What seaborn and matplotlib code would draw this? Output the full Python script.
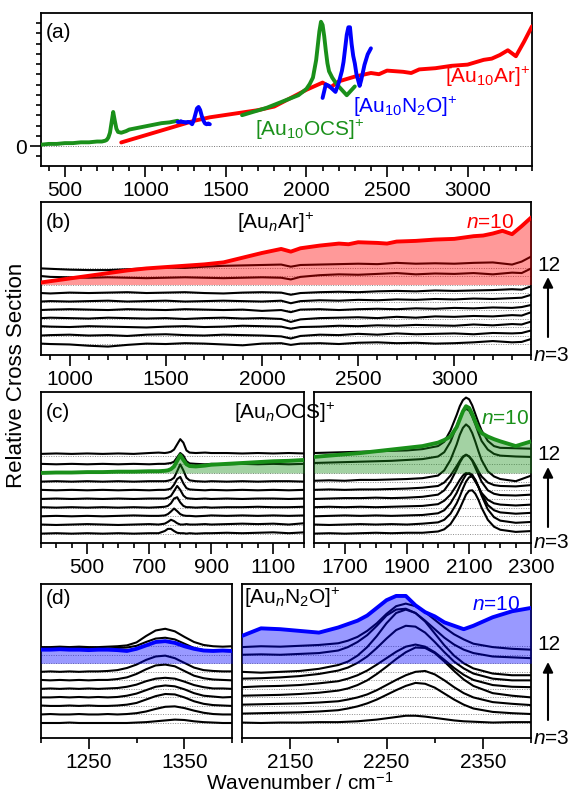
import numpy as np
import matplotlib
matplotlib.use("Agg")
import matplotlib.pyplot as plt
from matplotlib.ticker import MultipleLocator
import seaborn as sns

sns.set_style("ticks")
plt.rcParams["font.family"] = ["Liberation Sans", "DejaVu Sans"]
plt.rcParams["mathtext.fontset"] = "custom"
plt.rcParams["mathtext.rm"] = "Liberation Sans"
plt.rcParams["mathtext.it"] = "Liberation Sans:italic"
plt.rcParams["mathtext.bf"] = "Liberation Sans:bold"

RED, GREEN, BLUE = "#ff0000", "#1a901a", "#0000ff"

# ---- [Au10Ar]+ spectrum (normalised) ----
ar_x = [850, 900, 1000, 1100, 1200, 1300, 1400, 1500, 1600, 1700, 1800, 1900, 2000, 2050, 2100,
        2150, 2200, 2300, 2400, 2450, 2500, 2600, 2650, 2700, 2800, 2900, 3000, 3050, 3100, 3150,
        3200, 3250, 3300, 3350, 3400]
ar_y = [0.03, 0.05, 0.09, 0.13, 0.17, 0.21, 0.24, 0.26, 0.28, 0.30, 0.33, 0.40, 0.47, 0.50, 0.53,
        0.49, 0.54, 0.58, 0.61, 0.60, 0.63, 0.62, 0.61, 0.64, 0.65, 0.67, 0.68, 0.70, 0.72, 0.73,
        0.76, 0.80, 0.75, 0.87, 1.00]

# ---- (b) [AunAr]+ , n = 3..12 (n=10 is ar_y) ----
xb = [850, 900, 1000, 1100, 1200, 1300, 1400, 1500, 1600, 1700, 1800, 1900, 2000, 2100, 2150,
      2200, 2300, 2400, 2500, 2600, 2700, 2800, 2900, 3000, 3100, 3200, 3300, 3350, 3400]
b_traces = {
    3: [0.05, 0.0, -0.05, -0.2, -0.3, -0.1, 0.05, 0.0, 0.1, 0.05, -0.05, -0.15, 0.05, 0.1, -0.1,
        0.05, 0.1, 0.0, 0.15, 0.2, 0.1, 0.15, 0.05, 0.1, 0.2, 0.35, 0.2, 0.25, 0.6],
    4: [0.0, 0.05, 0.1, 0.0, 0.05, -0.05, 0.1, 0.15, 0.05, 0.0, 0.1, 0.05, 0.0, -0.1, -0.35,
        -0.05, 0.1, 0.05, 0.2, 0.1, 0.25, 0.15, 0.2, 0.25, 0.15, 0.3, 0.25, 0.3, 0.6],
    5: [0.1, 0.05, 0.0, 0.1, 0.05, 0.0, -0.05, 0.05, 0.1, 0.0, 0.05, 0.15, 0.1, 0.05, -0.2,
        0.0, 0.05, 0.15, 0.1, 0.2, 0.15, 0.25, 0.2, 0.15, 0.3, 0.2, 0.35, 0.3, 0.65],
    6: [0.05, 0.1, 0.05, 0.0, 0.1, 0.05, 0.0, 0.05, -0.05, 0.05, 0.1, 0.0, 0.05, -0.05, -0.4,
        -0.1, 0.05, 0.1, 0.15, 0.05, 0.2, 0.1, 0.25, 0.2, 0.3, 0.25, 0.4, 0.35, 0.75],
    7: [0.0, 0.05, 0.1, 0.05, 0.0, 0.1, 0.05, 0.0, 0.1, 0.05, 0.0, 0.05, -0.1, 0.0, -0.25,
        0.05, 0.1, 0.0, 0.1, 0.15, 0.1, 0.2, 0.15, 0.25, 0.2, 0.3, 0.25, 0.35, 0.6],
    8: [0.0, 0.05, 0.0, 0.05, 0.1, 0.0, 0.05, 0.1, 0.0, 0.05, 0.1, 0.05, 0.0, 0.1, -0.2,
        0.05, 0.15, 0.1, 0.2, 0.15, 0.25, 0.2, 0.3, 0.25, 0.35, 0.3, 0.4, 0.45, 0.8],
    9: [0.0, -0.05, 0.05, 0.0, 0.05, 0.1, 0.0, 0.05, 0.1, 0.0, -0.05, 0.05, 0.1, 0.05, -0.2,
        0.0, 0.1, 0.15, 0.1, 0.2, 0.25, 0.2, 0.3, 0.25, 0.3, 0.35, 0.45, 0.4, 0.8],
    11: [0.0, -0.1, -0.15, -0.2, -0.15, -0.2, -0.25, -0.2, -0.15, -0.2, -0.25, -0.2, -0.15, -0.2, -0.4,
         -0.1, 0.1, 0.2, 0.15, 0.25, 0.35, 0.2, 0.3, 0.25, 0.35, 0.2, 0.4, 0.35, 0.9],
    12: [-0.1, -0.15, -0.25, -0.3, -0.3, -0.2, -0.1, 0.0, -0.05, 0.1, 0.2, 0.25, 0.3, 0.35, 0.1,
         0.3, 0.35, 0.4, 0.45, 0.4, 0.55, 0.45, 0.5, 0.45, 0.55, 0.6, 0.35, 0.7, 1.3],
}

# ---- (c) [AunOCS]+ ----
xcl = [350, 400, 450, 500, 550, 600, 650, 700, 730, 750, 760, 770, 780, 790, 800, 810, 820, 830,
       850, 880, 900, 950, 1000, 1050, 1100, 1150, 1200]
c_left = {
    3: [0.0, 0.05, 0.0, 0.05, 0.0, 0.05, 0.0, 0.05, 0.05, 0.3, 0.55, 0.55, 0.3, 0.1, 0.05, 0.05, 0.0, 0.05,
        0.0, 0.05, 0.05, 0.1, 0.05, 0.1, 0.15, 0.05, 0.15],
    4: [0.05, 0.0, 0.05, 0.1, 0.05, 0.0, 0.05, 0.1, 0.05, 0.15, 0.35, 0.6, 0.45, 0.2, 0.05, 0.05, 0.1, 0.05,
        0.05, 0.1, 0.05, 0.1, 0.15, 0.1, 0.15, 0.05, 0.2],
    5: [0.0, 0.05, 0.0, 0.05, 0.0, 0.05, 0.1, 0.05, 0.05, 0.1, 0.25, 0.55, 0.9, 0.6, 0.25, 0.1, 0.05, 0.05,
        0.0, 0.05, 0.1, 0.05, 0.1, 0.05, 0.1, 0.05, 0.1],
    6: [0.05, 0.0, 0.05, 0.0, 0.05, 0.0, 0.05, 0.0, 0.05, 0.1, 0.2, 0.5, 1.05, 1.2, 0.6, 0.2, 0.05, 0.05,
        0.0, 0.05, 0.0, 0.05, 0.05, 0.1, 0.05, 0.05, 0.1],
    7: [0.0, 0.05, 0.0, 0.05, 0.0, 0.05, 0.0, 0.05, 0.05, 0.05, 0.15, 0.35, 0.9, 1.5, 1.05, 0.4, 0.1, 0.05,
        0.0, 0.05, 0.0, 0.05, 0.0, 0.05, 0.05, 0.0, 0.05],
    8: [0.05, 0.0, 0.05, 0.0, 0.05, 0.0, 0.05, 0.0, 0.05, 0.05, 0.1, 0.2, 0.65, 1.3, 1.55, 0.8, 0.25, 0.1,
        0.05, 0.0, 0.05, 0.0, 0.05, 0.0, 0.05, 0.0, 0.05],
    9: [0.0, 0.05, 0.0, 0.05, 0.0, 0.05, 0.0, 0.05, 0.05, 0.05, 0.1, 0.2, 0.45, 1.2, 2.0, 1.3, 0.45, 0.15,
        0.05, 0.0, 0.05, 0.0, 0.05, 0.0, 0.05, 0.05, 0.0],
    10: [0.0, 0.05, 0.05, 0.1, 0.1, 0.15, 0.15, 0.2, 0.2, 0.25, 0.3, 0.45, 0.75, 1.4, 2.05, 1.5, 1.0, 0.8,
         0.75, 0.85, 0.95, 1.05, 1.15, 1.25, 1.35, 1.4, 1.5],
    11: [0.05, 0.0, 0.05, 0.0, 0.05, 0.0, 0.05, 0.0, 0.05, 0.05, 0.1, 0.15, 0.3, 0.8, 1.3, 1.0, 0.35, 0.1,
         0.05, 0.0, 0.05, 0.0, 0.05, 0.0, 0.05, 0.0, 0.05],
    12: [0.2, 0.25, 0.2, 0.25, 0.2, 0.25, 0.2, 0.3, 0.35, 0.3, 0.35, 0.45, 0.7, 1.3, 1.9, 1.5, 0.6, 0.35,
         0.3, 0.35, 0.3, 0.3, 0.25, 0.3, 0.25, 0.3, 0.25],
}
xcr = [1600, 1650, 1700, 1750, 1800, 1850, 1900, 1950, 2000, 2020, 2040, 2060, 2070, 2080, 2090,
       2100, 2110, 2120, 2130, 2140, 2160, 2180, 2200, 2250, 2300]
c_right = {
    3: [0.0, 0.05, 0.0, 0.05, 0.1, 0.05, 0.1, 0.1, 0.25, 0.5, 1.1, 2.2, 2.9, 3.7, 4.5,
        4.95, 5.0, 4.6, 3.9, 3.0, 1.6, 0.8, 0.45, 0.2, 0.3],
    4: [0.05, 0.0, 0.05, 0.1, 0.05, 0.1, 0.05, 0.15, 0.3, 0.6, 1.3, 2.5, 3.3, 4.2, 5.0,
        5.5, 5.6, 5.2, 4.4, 3.4, 1.8, 0.9, 0.5, 0.25, 0.35],
    5: [0.0, 0.05, 0.1, 0.05, 0.1, 0.05, 0.1, 0.15, 0.35, 0.7, 1.5, 2.7, 3.5, 4.2, 4.8,
        5.0, 4.8, 4.2, 3.4, 2.6, 1.3, 0.7, 0.45, 0.3, 0.4],
    6: [0.05, 0.1, 0.05, 0.1, 0.05, 0.1, 0.15, 0.2, 0.4, 0.8, 1.5, 2.6, 3.2, 3.7, 4.0,
        3.9, 3.6, 3.0, 2.4, 1.7, 0.9, 0.5, 0.35, 0.25, 0.35],
    7: [0.0, 0.05, 0.1, 0.1, 0.15, 0.1, 0.15, 0.25, 0.5, 1.0, 2.0, 3.4, 4.2, 4.8, 5.1,
        4.9, 4.4, 3.6, 2.8, 2.0, 1.0, 0.6, 0.45, 0.4, 0.5],
    8: [0.05, 0.1, 0.05, 0.1, 0.1, 0.15, 0.2, 0.3, 0.5, 0.9, 1.7, 2.8, 3.4, 3.9, 4.1,
        3.9, 3.5, 2.9, 2.2, 1.6, 0.9, 0.6, 0.5, 0.45, 0.6],
    9: [0.1, 0.15, 0.1, 0.2, 0.2, 0.25, 0.3, 0.4, 0.7, 1.3, 2.5, 4.3, 5.4, 6.2, 6.6,
        6.3, 5.6, 4.6, 3.5, 2.5, 1.2, 0.6, 0.3, 0.05, 0.7],
    10: [1.85, 2.0, 2.15, 2.3, 2.5, 2.7, 2.9, 3.1, 3.5, 3.8, 4.2, 5.3, 6.2, 7.1, 7.7,
         7.5, 6.8, 5.9, 5.1, 4.6, 4.2, 3.9, 3.65, 3.1, 3.65],
    11: [0.15, 0.2, 0.25, 0.3, 0.35, 0.4, 0.5, 0.6, 0.9, 1.4, 2.6, 4.4, 5.4, 6.1, 6.4,
         6.2, 5.5, 4.6, 3.6, 2.7, 1.7, 1.2, 1.0, 0.9, 0.85],
    12: [0.3, 0.35, 0.4, 0.45, 0.5, 0.55, 0.6, 0.75, 1.1, 1.6, 2.9, 4.7, 5.7, 6.4, 6.7,
         6.5, 5.8, 4.8, 3.8, 2.9, 1.7, 1.1, 0.9, 0.85, 0.8],
}

# ---- (d) [AunN2O]+ ----
xdl = [1200, 1210, 1220, 1230, 1240, 1250, 1260, 1270, 1280, 1290, 1300,
       1310, 1320, 1330, 1340, 1350, 1360, 1370, 1380, 1390, 1400]
d_left = {
    3: [0.0, 0.0, 0.0, 0.05, 0.0, 0.0, 0.0, 0.0, 0.0, 0.0, 0.05, 0.1, 0.2, 0.3, 0.4, 0.35, 0.2, 0.1, 0.05, 0.0, 0.0],
    4: [0.0, 0.05, 0.0, 0.0, 0.05, 0.0, 0.0, 0.05, 0.0, 0.05, 0.15, 0.35, 0.65, 0.9, 0.95, 0.75, 0.45, 0.2, 0.05, 0.0, 0.0],
    5: [0.05, 0.0, 0.0, 0.05, 0.0, 0.05, 0.0, 0.0, 0.05, 0.15, 0.35, 0.75, 1.15, 1.4, 1.35, 1.0, 0.55, 0.25, 0.1, 0.05, 0.0],
    6: [0.0, 0.0, 0.05, 0.0, 0.05, 0.0, 0.05, 0.0, 0.05, 0.2, 0.45, 0.85, 1.25, 1.4, 1.3, 0.95, 0.5, 0.2, 0.1, 0.0, 0.05],
    7: [0.0, 0.05, 0.0, 0.05, 0.0, 0.05, 0.0, 0.05, 0.1, 0.25, 0.5, 0.9, 1.2, 1.3, 1.2, 0.85, 0.45, 0.2, 0.05, 0.05, 0.0],
    8: [0.05, 0.0, 0.05, 0.0, 0.05, 0.0, 0.05, 0.05, 0.15, 0.35, 0.75, 1.3, 1.75, 1.85, 1.65, 1.1, 0.55, 0.25, 0.1, 0.05, 0.0],
    9: [0.0, 0.05, 0.0, 0.05, 0.0, 0.05, 0.05, 0.1, 0.2, 0.45, 0.85, 1.4, 1.8, 1.9, 1.6, 1.05, 0.5, 0.2, 0.1, 0.05, 0.05],
    10: [1.6, 1.6, 1.65, 1.6, 1.6, 1.55, 1.6, 1.6, 1.55, 1.45, 1.7, 2.1, 2.5, 2.6, 2.4, 2.0, 1.7, 1.5, 1.45, 1.5, 1.45],
    11: [0.8, 0.8, 0.85, 0.8, 0.8, 0.75, 0.8, 0.75, 0.8, 0.85, 1.05, 1.5, 1.9, 2.0, 1.8, 1.3, 0.8, 0.55, 0.45, 0.45, 0.4],
    12: [-0.1, -0.1, -0.05, -0.1, -0.05, -0.1, -0.1, -0.05, 0.0, 0.1, 0.45, 1.2, 1.85, 2.05, 1.75, 1.1, 0.5, 0.15, 0.0, -0.05, 0.0],
}
xdr = [2100, 2120, 2140, 2160, 2180, 2200, 2210, 2220, 2230, 2240, 2250, 2260,
       2270, 2280, 2290, 2300, 2310, 2320, 2330, 2340, 2360, 2380, 2400]
d_right = {
    3: [0.05, 0.0, 0.05, 0.05, 0.1, 0.1, 0.15, 0.2, 0.3, 0.4, 0.55, 0.7,
        0.85, 0.85, 0.75, 0.6, 0.45, 0.3, 0.2, 0.15, 0.05, 0.1, 0.1],
    4: [0.1, 0.15, 0.2, 0.25, 0.35, 0.5, 0.7, 0.95, 1.3, 1.75, 2.3, 2.85,
        3.35, 3.7, 3.6, 3.15, 2.45, 1.75, 1.15, 0.7, 0.3, 0.15, 0.05],
    5: [0.15, 0.2, 0.25, 0.3, 0.4, 0.55, 0.75, 1.0, 1.35, 1.85, 2.45, 3.05,
        3.6, 4.0, 4.1, 3.7, 3.0, 2.2, 1.5, 1.0, 0.45, 0.25, 0.1],
    6: [0.2, 0.25, 0.3, 0.4, 0.55, 0.8, 1.05, 1.45, 2.0, 2.75, 3.6, 4.5,
        5.3, 5.85, 5.8, 5.2, 4.2, 3.1, 2.1, 1.35, 0.5, 0.2, 0.0],
    7: [0.2, 0.3, 0.35, 0.45, 0.65, 0.9, 1.2, 1.6, 2.15, 2.85, 3.6, 4.35,
        4.95, 5.2, 4.95, 4.3, 3.4, 2.45, 1.65, 1.05, 0.45, 0.25, 0.2],
    8: [0.2, 0.25, 0.35, 0.5, 0.75, 1.15, 1.5, 2.05, 2.8, 3.8, 4.9, 5.9,
        6.4, 6.3, 5.6, 4.5, 3.3, 2.2, 1.4, 0.8, 0.2, 0.0, 0.0],
    9: [0.0, -0.1, 0.0, 0.1, 0.35, 0.8, 1.2, 1.9, 2.9, 4.2, 5.7, 6.9,
        7.3, 6.9, 5.9, 4.5, 3.1, 1.9, 1.0, 0.4, -0.2, -0.4, -0.4],
    10: [3.2, 4.1, 4.0, 3.8, 3.6, 4.2, 4.6, 5.0, 5.6, 6.5, 7.4, 7.9,
         7.9, 6.8, 6.0, 5.5, 4.8, 4.4, 4.0, 4.4, 5.4, 6.1, 6.5],
    11: [0.0, 0.05, 0.0, 0.1, 0.2, 0.5, 0.9, 1.5, 2.3, 3.4, 4.6, 5.3,
         5.4, 4.9, 4.0, 3.0, 2.0, 1.2, 0.6, 0.2, -0.2, -0.3, -0.4],
    12: [-0.1, 0.0, -0.05, 0.05, 0.15, 0.35, 0.65, 1.1, 1.8, 2.7, 3.8, 4.7,
         5.0, 4.7, 4.0, 3.1, 2.2, 1.4, 0.8, 0.3, -0.1, -0.3, -0.4],
}

W, H = 574, 796
fig = plt.figure(figsize=(W / 100, H / 100), dpi=100)


def fx(x):
    return x / W


def fy(y):
    return 1 - y / H


def add_ax(x0, x1, y0, y1):
    return fig.add_axes([fx(x0), fy(y1), (x1 - x0) / W, (y1 - y0) / H])


ax_a = add_ax(40.7, 532, 13, 166)
ax_b = add_ax(40.7, 531.3, 202, 355)
ax_cl = add_ax(40.7, 304.3, 392, 543)
ax_cr = add_ax(313.7, 531.3, 392, 543)
ax_dl = add_ax(40.7, 232.3, 584, 738)
ax_dr = add_ax(241.7, 531.3, 584, 738)


def line(ax, x, y, color="k", lw=1.5, z=2):
    sns.lineplot(x=list(x), y=list(y), ax=ax, color=color, lw=lw,
                 estimator=None, sort=False, zorder=z)


def stack(ax, x, traces, col, x10=None, y10=None):
    for k in range(3, 13):
        ax.axhline(k - 3, color="0.55", lw=0.7, ls=(0, (1, 1.5)), zorder=1)
    for n, y in traces.items():
        if n == 10:
            continue
        line(ax, x, np.asarray(y) + n - 3)
    if x10 is None:
        x10, y10 = x, traces[10]
    top = np.asarray(y10) + 7
    ax.fill_between(x10, 7, top, color=col, alpha=0.4, lw=0, zorder=3)
    line(ax, x10, top, color=col, lw=2.8, z=4)


# (a) overview
ax_a.axhline(0, color="0.45", lw=0.7, ls=(0, (1, 1.5)), zorder=1)
line(ax_a, ar_x, 0.9 * np.asarray(ar_y), RED, 2.8, 3)
line(ax_a, xcl, 0.12 * np.asarray(c_left[10]) + 0.01, GREEN, 2.8, 4)
line(ax_a, xcr, 0.12 * np.asarray(c_right[10]) + 0.01, GREEN, 2.8, 4)
line(ax_a, xdl, 0.113 * np.asarray(d_left[10]), BLUE, 2.8, 5)
line(ax_a, xdr, 0.113 * np.asarray(d_right[10]), BLUE, 2.8, 5)
ax_a.set_xlim(350, 3400)
ax_a.set_ylim(-0.15, 1.0)

# stacked panels
stack(ax_b, xb, b_traces, RED, ar_x, 7.9 * np.asarray(ar_y))
stack(ax_cl, xcl, c_left, GREEN)
stack(ax_cr, xcr, c_right, GREEN)
stack(ax_dl, xdl, d_left, BLUE)
stack(ax_dr, xdr, d_right, BLUE)
ax_b.set_xlim(850, 3400)
ax_cl.set_xlim(350, 1200)
ax_cr.set_xlim(1600, 2300)
ax_dl.set_xlim(1200, 1400)
ax_dr.set_xlim(2100, 2400)
ax_b.set_ylim(-1.29, 16.71)
ax_cl.set_ylim(-1.08, 16.34)
ax_cr.set_ylim(-1.08, 16.34)
ax_dl.set_ylim(-1.76, 16.3)
ax_dr.set_ylim(-1.76, 16.3)

ticks = {
    ax_a: ([500, 1000, 1500, 2000, 2500, 3000], 100),
    ax_b: ([1000, 1500, 2000, 2500, 3000], 100),
    ax_cl: ([500, 700, 900, 1100], 50),
    ax_cr: ([1700, 1900, 2100, 2300], 50),
    ax_dl: ([1250, 1350], 50),
    ax_dr: ([2150, 2250, 2350], 50),
}
for ax, (maj, mnr) in ticks.items():
    ax.set_xticks(maj)
    ax.xaxis.set_minor_locator(MultipleLocator(mnr))
    ax.set_xlabel("")
    ax.set_ylabel("")
    for s in ax.spines.values():
        s.set_visible(True)
        s.set_linewidth(1.3)
        s.set_color("k")
    ax.tick_params(axis="x", which="major", direction="out", length=8, width=1.2,
                   labelsize=15, pad=3, top=False, bottom=True, colors="k")
    ax.tick_params(axis="x", which="minor", direction="out", length=3.5, width=1.2,
                   top=False, bottom=True, colors="k")
    ax.tick_params(axis="y", which="both", left=False, right=False, labelleft=False)

ax_a.set_yticks([0])
ax_a.set_yticklabels(["0"])
ax_a.yaxis.set_minor_locator(MultipleLocator(0.077))
ax_a.tick_params(axis="y", which="major", left=True, labelleft=True, direction="out",
                 length=8, width=1.2, labelsize=15, pad=2, colors="k")
ax_a.tick_params(axis="y", which="minor", left=True, direction="out", length=3.5,
                 width=1.2, colors="k")


def t(x, y, s, ha="left", color="k", size=15, **kw):
    fig.text(fx(x), fy(y), s, ha=ha, va="center", color=color, fontsize=size, **kw)


# panel (a) labels
t(46, 33, "(a)")
t(530, 77, r"[Au$_{10}$Ar]$^{+}$", ha="right", color=RED)
t(405, 107, r"[Au$_{10}$N$_{2}$O]$^{+}$", ha="center", color=BLUE)
t(310, 130, r"[Au$_{10}$OCS]$^{+}$", ha="center", color=GREEN)

# stacked panel labels
t(46, 223, "(b)")
t(275, 223, r"[Au$_{n}$Ar]$^{+}$", ha="center")
t(514, 223, r"$n$=10", ha="right", color=RED)
t(46, 413, "(c)")
t(285, 413, r"[Au$_{n}$OCS]$^{+}$", ha="center")
t(529, 418, r"$n$=10", ha="right", color=GREEN)
t(46, 598, "(d)")
t(244, 598, r"[Au$_{n}$N$_{2}$O]$^{+}$", ha="left")
t(520, 604, r"$n$=10", ha="right", color=BLUE)

# size arrows on the right
for y12, ya, yb, yn3 in [(265, 277, 337, 355), (455, 467, 527, 542), (645, 662, 720, 738)]:
    t(549, y12, "12", ha="center")
    t(533, yn3, r"$n$=3", ha="left")
    ax_a.annotate("", xy=(fx(548), fy(ya)), xytext=(fx(548), fy(yb)),
                  xycoords="figure fraction", textcoords="figure fraction",
                  arrowprops=dict(arrowstyle="-|>", color="k", lw=1.5, mutation_scale=15,
                                  shrinkA=0, shrinkB=0),
                  annotation_clip=False)

t(17, 375, "Relative Cross Section", ha="center", size=16, rotation=90)
t(300, 783, r"Wavenumber / cm$^{-1}$", ha="center")

fig.savefig("out.png", dpi=100, facecolor="white")
